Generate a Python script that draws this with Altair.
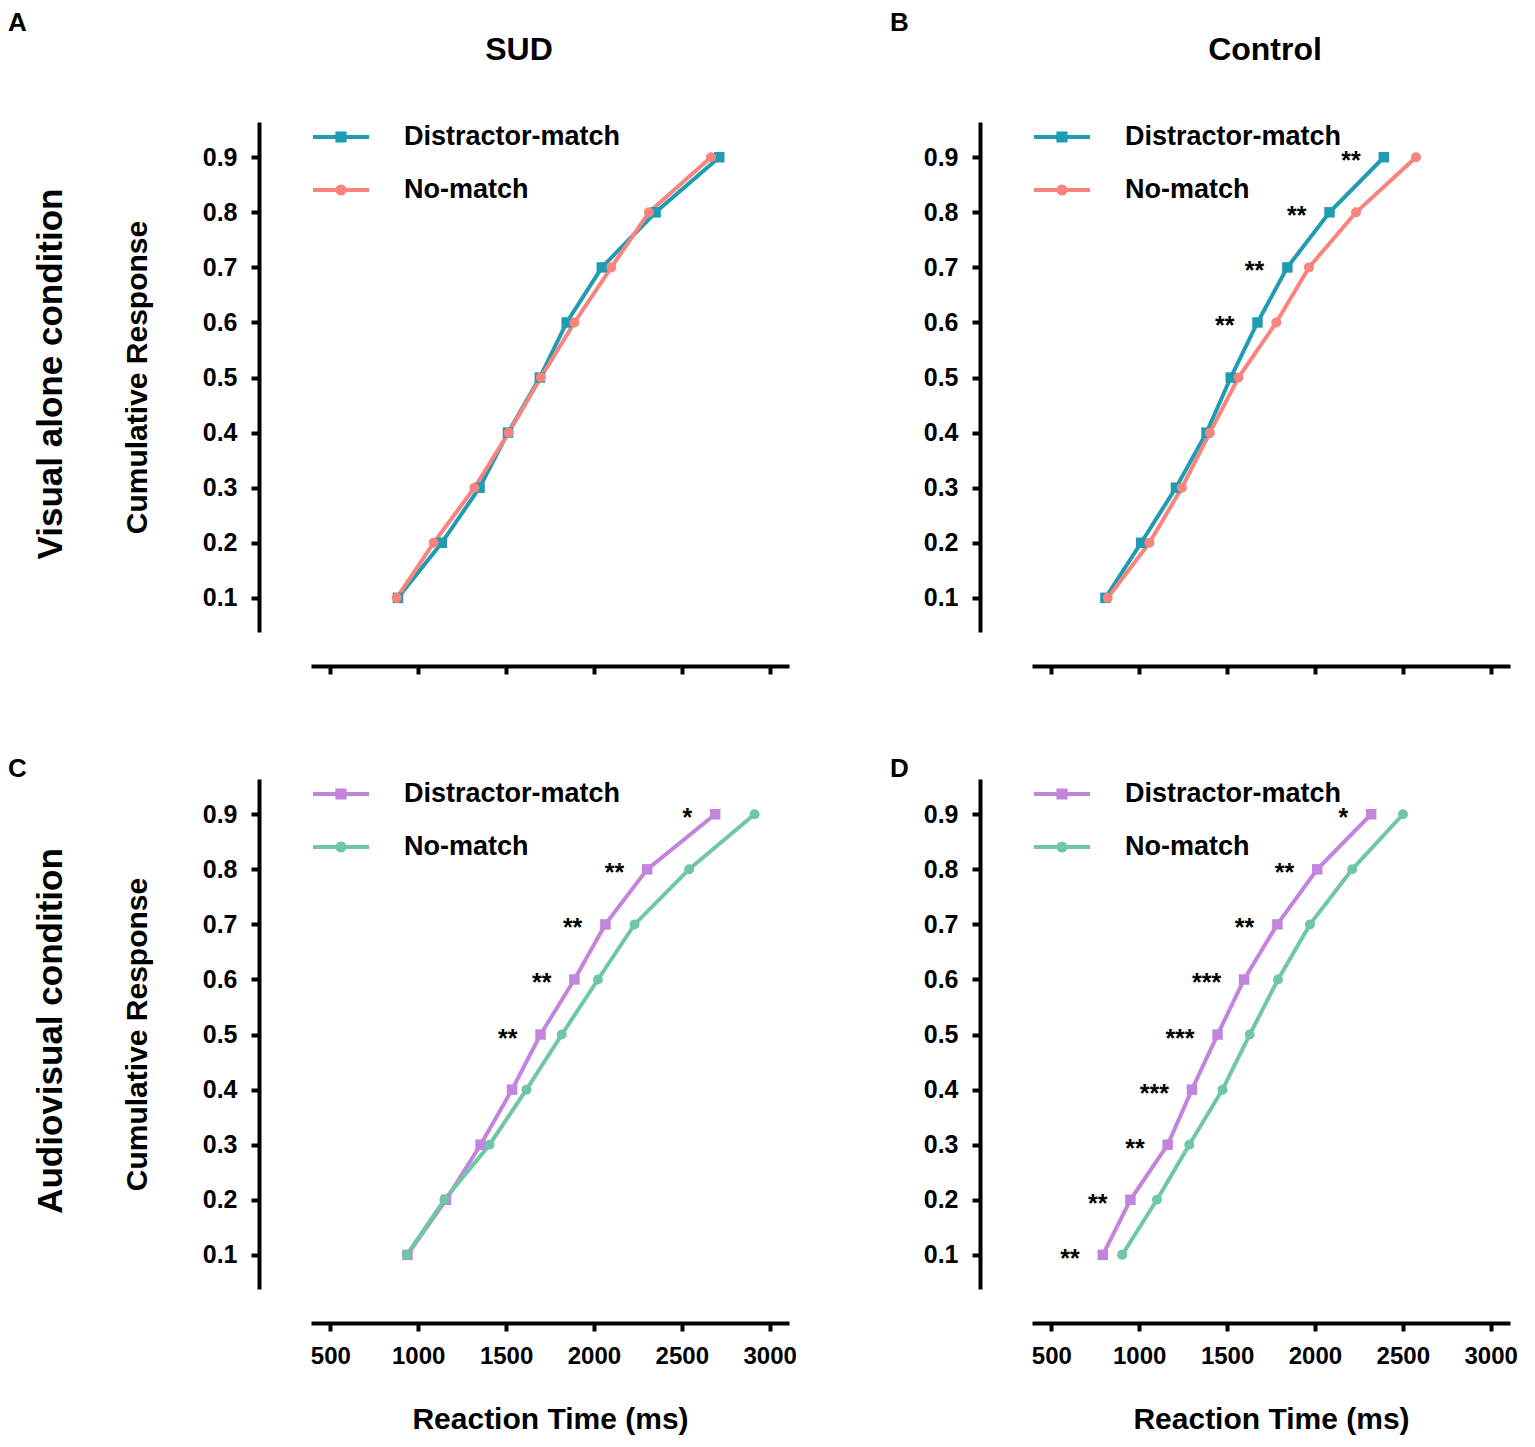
import altair as alt
import pandas as pd

FONT = "Liberation Sans"

quantiles = [0.1, 0.2, 0.3, 0.4, 0.5, 0.6, 0.7, 0.8, 0.9]
series_names = ["Distractor-match", "No-match"]
x_ticks = [500, 1000, 1500, 2000, 2500, 3000]

# Panel A: SUD, visual alone
a_dm = [885, 1134, 1349, 1511, 1692, 1845, 2045, 2351, 2713]
a_nm = [878, 1088, 1320, 1515, 1698, 1889, 2099, 2313, 2666]
a_sig = ["", "", "", "", "", "", "", "", ""]
# Panel B: Control, visual alone
b_dm = [808, 1011, 1209, 1383, 1521, 1673, 1843, 2083, 2392]
b_nm = [821, 1058, 1243, 1402, 1565, 1780, 1966, 2234, 2575]
b_sig = ["", "", "", "", "", "**", "**", "**", "**"]
# Panel C: SUD, audiovisual
c_dm = [939, 1158, 1355, 1534, 1696, 1889, 2065, 2303, 2690]
c_nm = [935, 1149, 1406, 1616, 1817, 2023, 2231, 2542, 2914]
c_sig = ["", "", "", "", "**", "**", "**", "**", "*"]
# Panel D: Control, audiovisual
d_dm = [793, 950, 1162, 1300, 1446, 1597, 1786, 2013, 2320]
d_nm = [903, 1101, 1285, 1474, 1629, 1790, 1972, 2212, 2501]
d_sig = ["**", "**", "**", "***", "***", "***", "**", "**", "*"]

visual_colors = ["#1f9cb2", "#f9837d"]
av_colors = ["#c384dd", "#70c7a6"]

W, H = 478, 510

SQ_PATH = "M-1.4,0H1.4M-0.18,-0.18H0.18V0.18H-0.18Z"
CI_PATH = "M-1.4,0H1.4M-0.18,0A0.18,0.18,0,1,0,0.18,0A0.18,0.18,0,1,0,-0.18,0Z"
legend_paths = [SQ_PATH, CI_PATH]
legend_y = [-7, 46]


def text_layer(txt, x, y, size, angle=0, align="left"):
    return alt.Chart(pd.DataFrame({"t": [txt]})).mark_text(
        align=align, baseline="middle", fontSize=size, fontWeight="bold",
        font=FONT, color="black", angle=angle
    ).encode(x=alt.value(x), y=alt.value(y), text="t:N")


def panel(dm, nm, sig, colors, letter, header, header_x, letter_y, y_title=None,
          row_title=None, bottom=False):
    df = pd.DataFrame({
        "rt": dm + nm,
        "q": quantiles + quantiles,
        "series": [series_names[0]] * 9 + [series_names[1]] * 9,
    })
    sig_df = pd.DataFrame({"rt": dm, "q": quantiles, "sig": sig})
    sig_df = sig_df[sig_df["sig"] != ""]

    xs = alt.Scale(domain=[390, 3110], nice=False, zero=False)
    ys = alt.Scale(domain=[0.038, 0.964], nice=False, zero=False)

    xaxis_kw = dict(
        values=x_ticks, format="d", offset=34, domainWidth=4, domainColor="black",
        tickWidth=4, tickSize=8, tickColor="black", grid=False,
        labelFont=FONT, labelFontSize=24, labelFontWeight="bold",
        labelColor="black", labelPadding=13,
        titleFont=FONT, titleFontSize=30, titleFontWeight="bold",
        titleColor="black", titlePadding=36,
    )
    if bottom:
        xaxis = alt.Axis(title="Reaction Time (ms)", labels=True, **xaxis_kw)
    else:
        xaxis = alt.Axis(title=None, labels=False, **xaxis_kw)

    yaxis = alt.Axis(
        values=quantiles, format=".1f", offset=52, domainWidth=4,
        domainColor="black", tickWidth=4, tickSize=8, tickColor="black",
        grid=False, labelFont=FONT, labelFontSize=25, labelFontWeight="bold",
        labelColor="black", labelPadding=14, title=y_title,
        titleFont=FONT, titleFontSize=30, titleFontWeight="bold",
        titleColor="black", titlePadding=50,
    )

    cscale = alt.Scale(domain=series_names, range=colors)
    color_nolegend = alt.Color("series:N", scale=cscale, legend=None)

    base = alt.Chart(df).encode(
        x=alt.X("rt:Q", scale=xs, axis=xaxis),
        y=alt.Y("q:Q", scale=ys, axis=yaxis),
    )
    line = base.mark_line(strokeWidth=4).encode(
        color=color_nolegend, detail="series:N"
    )
    squares = base.transform_filter(
        alt.datum.series == series_names[0]
    ).mark_point(shape="square", filled=True, size=110, opacity=1).encode(
        color=color_nolegend
    )
    circles = base.transform_filter(
        alt.datum.series == series_names[1]
    ).mark_point(shape="circle", filled=True, size=100, opacity=1).encode(
        color=color_nolegend
    )

    layers = [line, squares, circles]

    for i, name in enumerate(series_names):
        leg = alt.Legend(
            title=None, orient="none", legendX=8, legendY=legend_y[i],
            labelFont=FONT, labelFontSize=27, labelFontWeight="bold",
            labelColor="black", labelLimit=500, labelOffset=41,
            symbolSize=1600, symbolStrokeWidth=4, symbolOpacity=1,
            symbolStrokeColor=colors[i], symbolFillColor=colors[i],
            padding=0,
        )
        layers.append(
            base.transform_filter(alt.datum.series == name).mark_point(
                opacity=0, strokeWidth=4, filled=False, color=colors[i]
            ).encode(
                shape=alt.Shape(
                    "series:N",
                    scale=alt.Scale(domain=[name], range=[legend_paths[i]]),
                    legend=leg,
                )
            )
        )

    if len(sig_df):
        stars = alt.Chart(sig_df).mark_text(
            align="right", baseline="alphabetic", dx=-23, dy=12,
            fontSize=25, fontWeight="bold", font=FONT, color="black",
        ).encode(
            x=alt.X("rt:Q", scale=xs), y=alt.Y("q:Q", scale=ys), text="sig:N"
        )
        layers.append(stars)

    lx = -303 if row_title else -142
    layers.append(text_layer(letter, lx, letter_y, 26))
    if header:
        layers.append(text_layer(header, header_x, -72, 32, align="center"))
    if row_title:
        layers.append(text_layer(row_title, -260, H / 2 - 3, 35, angle=270, align="center"))

    return alt.layer(*layers).properties(width=W, height=H).resolve_scale(
        color="shared", shape="independent"
    ).resolve_legend(shape="independent")


pA = panel(a_dm, a_nm, a_sig, visual_colors, "A", "SUD", 208, -99,
           y_title="Cumulative Response", row_title="Visual alone condition")
pB = panel(b_dm, b_nm, b_sig, visual_colors, "B", "Control", 233, -99)
pC = panel(c_dm, c_nm, c_sig, av_colors, "C", None, 0, -10,
           y_title="Cumulative Response", row_title="Audiovisual condition", bottom=True)
pD = panel(d_dm, d_nm, d_sig, av_colors, "D", None, 0, -10, bottom=True)

chart = alt.concat(
    pA, pB, pC, pD, columns=2, spacing={"row": 80, "column": 93}, align="each"
).resolve_scale(
    color="independent", shape="independent", x="independent", y="independent"
).resolve_legend(
    color="independent", shape="independent"
).properties(
    padding={"left": 0, "top": 2, "right": 5, "bottom": 5}
).configure_view(stroke=None)

chart.save("out.html", embed_options={"renderer": "svg", "actions": False})
